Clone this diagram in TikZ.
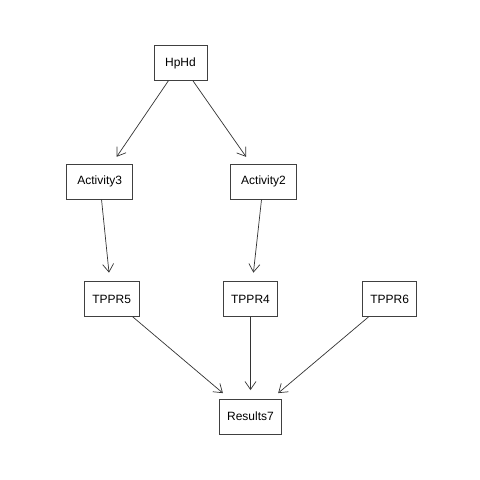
\documentclass[tikz,border=0pt]{standalone}
\usepackage{fontspec}
\setmainfont{Liberation Sans}
\usetikzlibrary{arrows.meta}
\begin{document}
\begin{tikzpicture}[x=1pt,y=-1pt,
  box/.style={draw=black!75,line width=0.8pt,fill=white,minimum height=35pt,inner sep=0pt,font=\fontsize{12}{14}\selectfont},
  edge/.style={draw=black!80,line width=0.7pt,-{Straight Barb[length=8pt,width=11pt,line width=0.7pt]},shorten >=8.5pt}]
\useasboundingbox[fill=white] (0,0) rectangle (480,480);
\node[box,minimum width=53pt] (hphd) at (180.5,63) {HpHd};
\node[box,minimum width=66pt] (a3) at (99.7,181.7) {Activity3};
\node[box,minimum width=66pt] (a2) at (263.5,181.7) {Activity2};
\node[box,minimum width=55pt] (t5) at (111.7,299) {TPPR5};
\node[box,minimum width=54.5pt] (t4) at (250.5,299) {TPPR4};
\node[box,minimum width=54pt] (t6) at (389.7,299) {TPPR6};
\node[box,minimum width=62pt] (r7) at (250.5,416.5) {Results7};
\draw[edge] (hphd) -- (a3);
\draw[edge] (hphd) -- (a2);
\draw[edge] (a3) -- (t5);
\draw[edge] (a2) -- (t4);
\draw[edge] (t5) -- (r7);
\draw[edge] (t4) -- (r7);
\draw[edge] (t6) -- (r7);
\end{tikzpicture}
\end{document}
